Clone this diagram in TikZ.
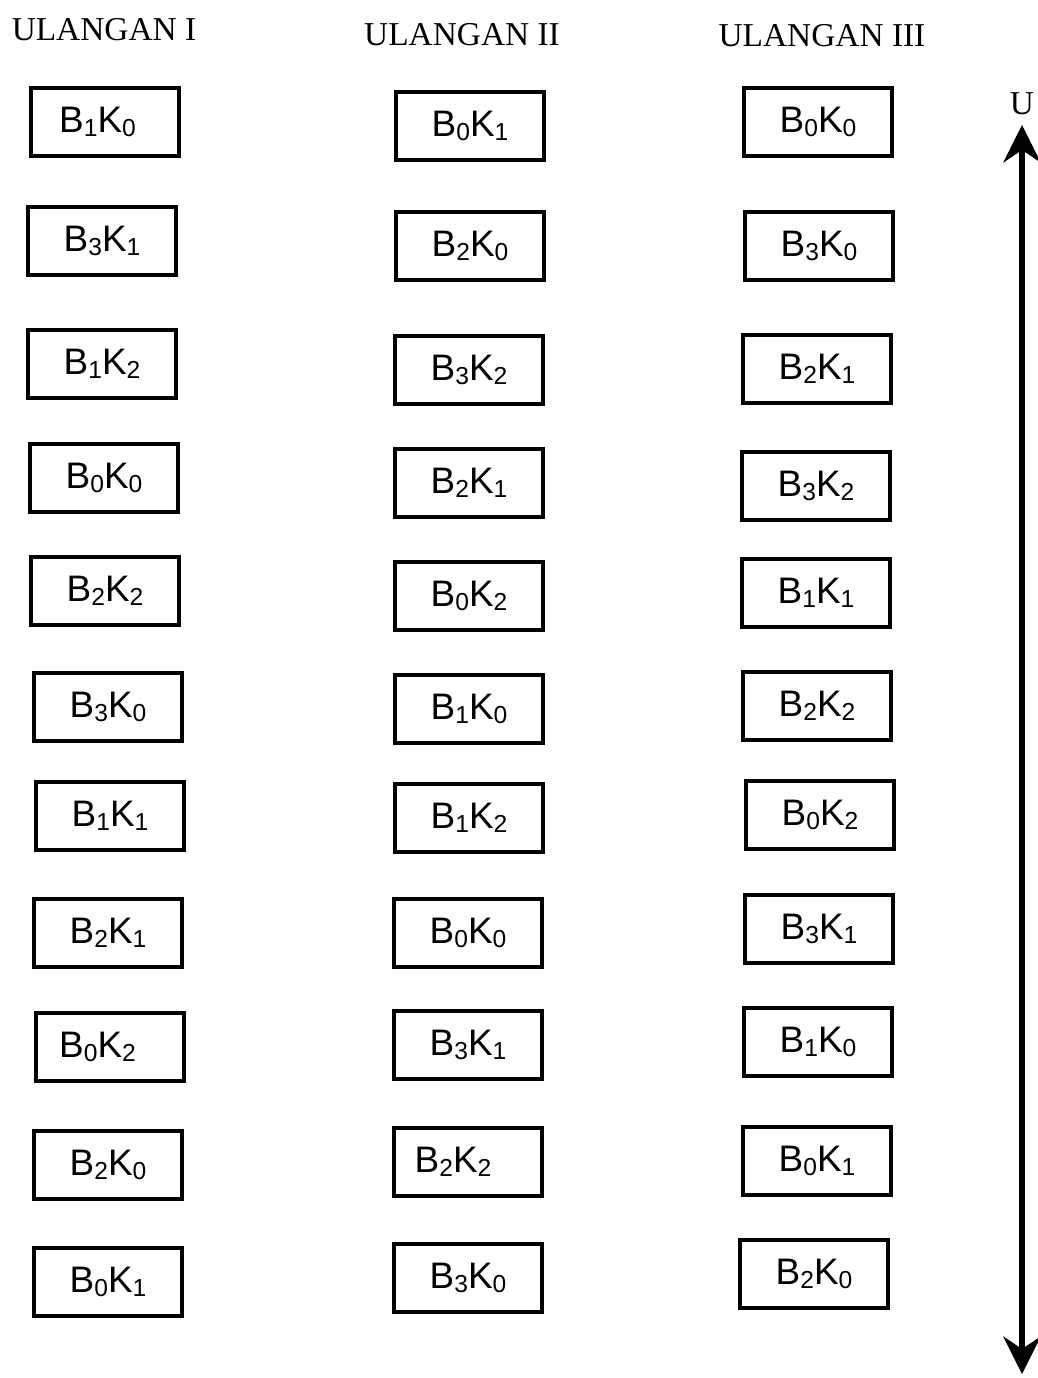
\documentclass[tikz,border=0pt]{standalone}
\usepackage{fontspec}
\setmainfont{Liberation Serif}
\newfontfamily\kotakfont{Liberation Sans}
\usetikzlibrary{arrows.meta}
\newcommand{\sbs}[1]{\raisebox{-0.2ex}{\fontsize{14}{14}\selectfont #1}}
\newcommand{\bk}[2]{B\sbs{#1}K\sbs{#2}}
\tikzset{
	kotak/.style={draw, line width=2.1pt, minimum width=2.95cm, minimum height=1.36cm,
		inner sep=0pt, font=\kotakfont\fontsize{21}{21}\selectfont},
	judul/.style={font=\fontsize{19}{19}\selectfont},
	panah/.style={line width=2.9pt, {Stealth[length=0.75cm, width=0.75cm, inset=0.25cm]}-{Stealth[length=0.75cm, width=0.75cm, inset=0.25cm]}}
}
\begin{document}
\begin{tikzpicture}[x=0.02cm, y=-0.02cm]
		%%Location
		\useasboundingbox (0,0) rectangle (1037,1378);
		%%Judul
		\node[judul] (jud1) at (104,30) {ULANGAN I};
		\node[judul] (jud2) at (462,35) {ULANGAN II};
		\node[judul] (jud3) at (822,36) {ULANGAN III};
		\node[judul] (ujung) at (1022,104) {U};
		
		%%Ulangan I
		\node[kotak] (a1) at (105,122) {\bk{1}{0}\kern0.3cm};
		\node[kotak] (a2) at (102,241) {\bk{3}{1}};
		\node[kotak] (a3) at (102,364) {\bk{1}{2}};
		\node[kotak] (a4) at (104,478) {\bk{0}{0}};
		\node[kotak] (a5) at (105,591) {\bk{2}{2}};
		\node[kotak] (a6) at (108,707) {\bk{3}{0}};
		\node[kotak] (a7) at (110,816) {\bk{1}{1}};
		\node[kotak] (a8) at (108,933) {\bk{2}{1}};
		\node[kotak] (a9) at (110,1047) {\bk{0}{2}\kern0.5cm};
		\node[kotak] (a10) at (108,1165) {\bk{2}{0}};
		\node[kotak] (a11) at (108,1282) {\bk{0}{1}};
		
		%%Ulangan II
		\node[kotak] (b1) at (470,126) {\bk{0}{1}};
		\node[kotak] (b2) at (470,246) {\bk{2}{0}};
		\node[kotak] (b3) at (469,370) {\bk{3}{2}};
		\node[kotak] (b4) at (469,483) {\bk{2}{1}};
		\node[kotak] (b5) at (469,596) {\bk{0}{2}};
		\node[kotak] (b6) at (469,709) {\bk{1}{0}};
		\node[kotak] (b7) at (469,818) {\bk{1}{2}};
		\node[kotak] (b8) at (468,933) {\bk{0}{0}};
		\node[kotak] (b9) at (468,1045) {\bk{3}{1}};
		\node[kotak] (b10) at (468,1162) {\bk{2}{2}\kern0.6cm};
		\node[kotak] (b11) at (468,1278) {\bk{3}{0}};
		
		%%Ulangan III
		\node[kotak] (c1) at (818,122) {\bk{0}{0}};
		\node[kotak] (c2) at (819,246) {\bk{3}{0}};
		\node[kotak] (c3) at (817,369) {\bk{2}{1}};
		\node[kotak] (c4) at (816,486) {\bk{3}{2}};
		\node[kotak] (c5) at (816,593) {\bk{1}{1}};
		\node[kotak] (c6) at (817,706) {\bk{2}{2}};
		\node[kotak] (c7) at (820,815) {\bk{0}{2}};
		\node[kotak] (c8) at (819,929) {\bk{3}{1}};
		\node[kotak] (c9) at (818,1042) {\bk{1}{0}};
		\node[kotak] (c10) at (817,1161) {\bk{0}{1}};
		\node[kotak] (c11) at (814,1274) {\bk{2}{0}};
		
		%%Panah
		\coordinate (atas) at (1022,125);
		\coordinate (bawah) at (1022,1374);
		\draw[panah] (atas) -- (bawah);
\end{tikzpicture}
\end{document}
